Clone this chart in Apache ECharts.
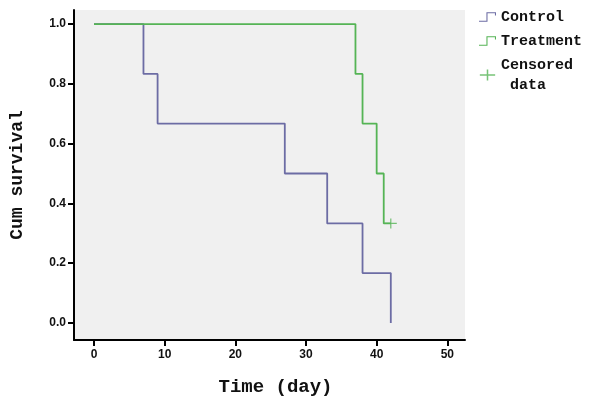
<!DOCTYPE html>
<html>
<head>
<meta charset="utf-8">
<script src="https://cdn.jsdelivr.net/npm/echarts@6/dist/echarts.min.js"></script>
<style>
  html, body { margin: 0; padding: 0; background: #fff; }
  #main { width: 600px; height: 409px; }
</style>
</head>
<body>
<div id="main"></div>
<script>
// Kaplan-Meier steps
var controlTimes = [0, 7, 9, 27, 33, 38, 42];
var controlSurv = [1, 0.833, 0.667, 0.5, 0.333, 0.167, 0];
var treatTimes = [0, 37, 38, 40, 41, 42];
var treatSurv = [1, 0.833, 0.667, 0.5, 0.333, 0.333];
var censored = [[42, 0.333]];
var xTicks = [0, 10, 20, 30, 40, 50];
var yTicks = [0, 0.2, 0.4, 0.6, 0.8, 1.0];

var pairs = function (t, s) {
  return t.map(function (v, i) { return [v, s[i]]; });
};

var ctrlColor = '#6c6ca4';
var treatColor = '#55b455';
var titleFont = '"Liberation Mono", "DejaVu Sans Mono", monospace';
var tickFont = 'Arial, "Liberation Sans", sans-serif';
// little step glyph like the SPSS legend: low line, up, top line, short drop
var stepIcon = 'path://M0,9L7,9L7,1L16,1L16,4L15,4L15,2L8,2L8,10L0,10Z';
var plusIcon = 'path://M0,5L16,5L16,6.5L0,6.5ZM7.2,0L8.8,0L8.8,11.5L7.2,11.5Z';

var chart = echarts.init(document.getElementById('main'));
chart.setOption({
  animation: false,
  backgroundColor: '#fff',
  grid: {
    left: 74, right: 135, top: 10, bottom: 69,
    outerBoundsMode: 'none',
    show: true, backgroundColor: '#f0f0f0', borderWidth: 0
  },
  legend: {
    left: 474, top: 2,
    orient: 'vertical',
    itemWidth: 17, itemHeight: 11, itemGap: 4,
    textStyle: { fontFamily: titleFont, fontWeight: 'bold', fontSize: 15, color: '#111', lineHeight: 20 },
    data: [
      { name: 'Control', icon: stepIcon, itemStyle: { color: ctrlColor } },
      { name: 'Treatment', icon: stepIcon, itemStyle: { color: treatColor } },
      { name: 'Censored\n data', icon: plusIcon, itemStyle: { color: treatColor } }
    ]
  },
  xAxis: {
    type: 'value',
    min: -2.83, max: 52.5,
    name: 'Time (day)',
    nameLocation: 'middle',
    nameGap: 38,
    nameTextStyle: { fontFamily: titleFont, fontWeight: 'bold', fontSize: 19, color: '#111', padding: [0, 0, 0, 12] },
    axisLine: { show: true, onZero: false, lineStyle: { color: '#000', width: 2 } },
    axisTick: { show: true, length: 6, customValues: xTicks, lineStyle: { color: '#000', width: 2 } },
    axisLabel: { customValues: xTicks, margin: 9, color: '#111', fontWeight: 'bold', fontSize: 12, fontFamily: tickFont },
    splitLine: { show: false }
  },
  yAxis: {
    type: 'value',
    min: -0.057, max: 1.047,
    name: 'Cum survival',
    nameLocation: 'middle',
    nameGap: 48,
    nameTextStyle: { fontFamily: titleFont, fontWeight: 'bold', fontSize: 18, color: '#111' },
    axisLine: { show: true, onZero: false, lineStyle: { color: '#000', width: 2 } },
    axisTick: { show: true, length: 6, customValues: yTicks, lineStyle: { color: '#000', width: 2 } },
    axisLabel: {
      customValues: yTicks, margin: 8, color: '#111', fontWeight: 'bold', fontSize: 12,
      fontFamily: tickFont,
      formatter: function (v) { return v.toFixed(1); }
    },
    splitLine: { show: false }
  },
  series: [
    {
      name: 'Control', type: 'line', step: 'end',
      data: pairs(controlTimes, controlSurv),
      showSymbol: false, color: ctrlColor,
      lineStyle: { color: ctrlColor, width: 1.8 }
    },
    {
      name: 'Treatment', type: 'line', step: 'end',
      data: pairs(treatTimes, treatSurv),
      showSymbol: false, color: treatColor,
      lineStyle: { color: treatColor, width: 1.8 }
    },
    {
      name: 'Censored\n data', type: 'scatter',
      data: censored,
      symbol: plusIcon, symbolSize: [12, 10], color: treatColor,
      itemStyle: { color: treatColor }
    }
  ]
});
</script>
</body>
</html>
